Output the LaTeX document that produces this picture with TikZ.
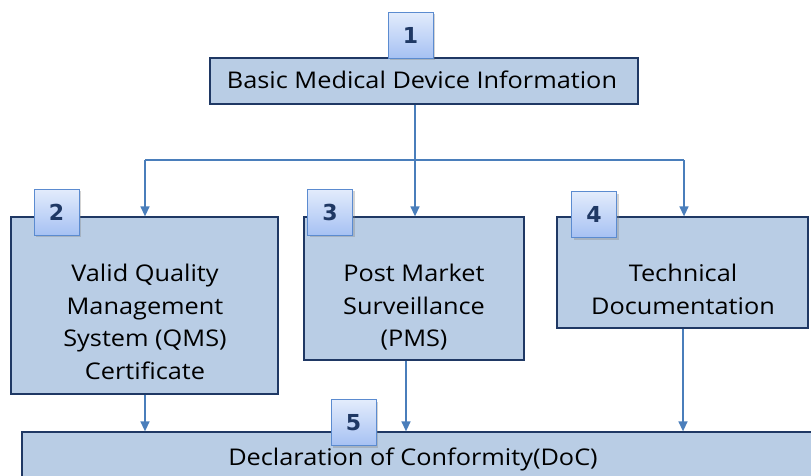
\documentclass[tikz,border=0pt]{standalone}
\usepackage{fontspec}
\setmainfont{Open Sans}[FakeStretch=1.1]
\newfontfamily\numfont{DejaVu Sans}
\usetikzlibrary{arrows.meta,shadows}
\definecolor{boxfill}{HTML}{B9CDE5}
\definecolor{boxline}{HTML}{1F3864}
\definecolor{arrowc}{HTML}{4A7EBB}
\definecolor{badgetop}{HTML}{E3ECFC}
\definecolor{badgebot}{HTML}{A6C1F3}
\definecolor{badgeline}{HTML}{5B8BD0}
\definecolor{numc}{HTML}{1F3864}
\tikzset{
  x=1pt,y=-1pt,
  stepbox/.style={draw=boxline, line width=1.3pt, fill=boxfill, inner sep=0pt},
  steptext/.style={align=center, font=\fontsize{23}{32.5}\selectfont, text=black, inner sep=0pt},
  badge/.style={draw=badgeline, line width=1pt, top color=badgetop, bottom color=badgebot,
    minimum width=45pt, minimum height=46pt, inner sep=0pt,
    font=\numfont\fontsize{22}{22}\selectfont\bfseries, text=numc,
    drop shadow={shadow xshift=2pt, shadow yshift=-2pt, opacity=0.35}},
  conn/.style={draw=arrowc, line width=1.4pt},
  arr/.style={conn, -{Triangle[length=10pt,width=9pt]}}
}
\begin{document}
\begin{tikzpicture}
\useasboundingbox (0,0) rectangle (811,475);
\clip (0,0) rectangle (811,475);
% boxes
\node[stepbox, minimum width=428pt, minimum height=46pt] (b1) at (424,81) {};
\node[stepbox, minimum width=267pt, minimum height=177pt] (b2) at (144.5,305.5) {};
\node[stepbox, minimum width=220pt, minimum height=143pt] (b3) at (414,288.5) {};
\node[stepbox, minimum width=251pt, minimum height=111pt] (b4) at (682.5,272.5) {};
\node[stepbox, minimum width=820pt, minimum height=70pt] (b5) at (432,467) {};
% texts
\node[steptext, anchor=base] (t1) at (422,88) {Basic Medical Device Information};
\node[steptext, anchor=north] (t2) at (145,264) {Valid Quality\\Management\\System (QMS)\\Certificate};
\node[steptext, anchor=north] (t3) at (414,264) {Post Market\\Surveillance\\(PMS)};
\node[steptext, anchor=north] (t4) at (683,264) {Technical\\Documentation};
\node[steptext, anchor=base] (t5) at (413,465) {Declaration of Conformity(DoC)};
% connectors
\coordinate (j) at (415,160);
\coordinate (jl) at (145,160);
\coordinate (jr) at (684,160);
\draw[conn] (b1.south -| j) -- (j);
\draw[conn] (jl) -- (jr);
\draw[arr] (jl) -- (jl |- b2.north);
\draw[arr] (j) -- (j |- b3.north);
\draw[arr] (jr) -- (jr |- b4.north);
\coordinate (d2) at (145,394);
\coordinate (d3) at (406,360);
\coordinate (d4) at (683,328);
\draw[arr] (b2.south -| d2) -- (d2 |- b5.north);
\draw[arr] (b3.south -| d3) -- (d3 |- b5.north);
\draw[arr] (b4.south -| d4) -- (d4 |- b5.north);
% badges
\node[badge] (n1) at (410.5,35) {1};
\node[badge] (n2) at (56.5,212) {2};
\node[badge] (n3) at (330,212) {3};
\node[badge] (n4) at (594,214.5) {4};
\node[badge] (n5) at (353.5,422.5) {5};
\end{tikzpicture}
\end{document}
